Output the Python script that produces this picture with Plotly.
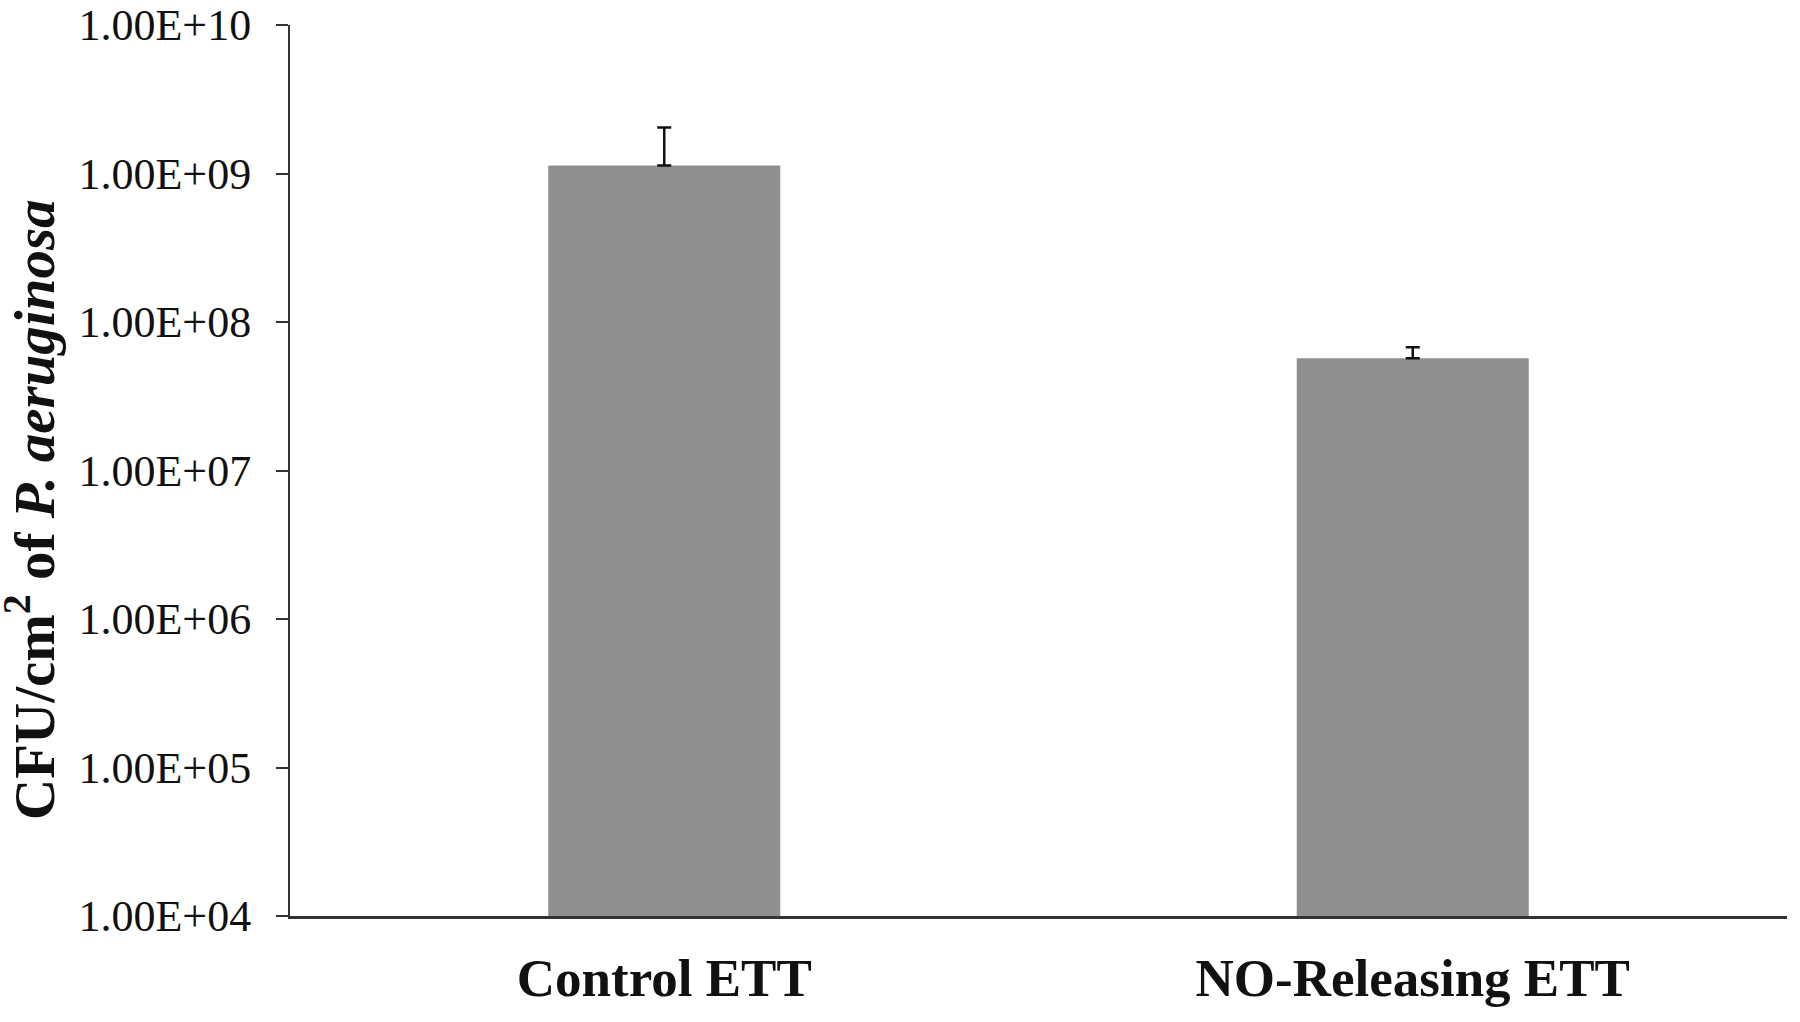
import plotly.graph_objects as go

# bar data (log scale)
categories = ["Control ETT", "NO-Releasing ETT"]
cfu_mean = [1.13e9, 5.7e7]
cfu_err = [0.91e9, 1.05e7]

tick_vals = [1e4, 1e5, 1e6, 1e7, 1e8, 1e9, 1e10]
tick_text = ["1.00E+04", "1.00E+05", "1.00E+06", "1.00E+07",
             "1.00E+08", "1.00E+09", "1.00E+10"]

W, H = 1800, 1022
L, R, T, B = 290, 13, 25, 106
serif = "Liberation Serif, Times New Roman, serif"

fig = go.Figure(go.Bar(
    x=categories,
    y=cfu_mean,
    width=0.31,
    marker=dict(color="#8f8f8f", line=dict(width=0)),
    error_y=dict(type="data", symmetric=False, array=cfu_err,
                 arrayminus=[0, 0], color="#111111", thickness=2.5, width=7),
))

plot_w = W - L - R
plot_h = H - T - B
title_x, title_y = 30, 510   # centre of y title, px

fig.update_layout(
    width=W, height=H,
    margin=dict(l=L, r=R, t=T, b=B, autoexpand=False),
    paper_bgcolor="white", plot_bgcolor="white",
    showlegend=False,
    font=dict(family=serif, color="#111111"),
    annotations=[dict(
        text="<b>CFU/cm<sup>2</sup> of <i>P. aeruginosa</i></b>",
        textangle=-90,
        xref="paper", yref="paper",
        x=(title_x - L) / plot_w, y=1 - (title_y - T) / plot_h,
        xanchor="center", yanchor="middle",
        showarrow=False,
        font=dict(family=serif, size=57, color="#111111"),
    )],
)

fig.update_xaxes(
    type="category",
    range=[-0.5, 1.5],
    automargin=False,
    showline=True, linecolor="#333333", linewidth=2.5,
    ticks="", showgrid=False, zeroline=False,
    tickfont=dict(family=serif, size=53, color="#111111"),
    ticklabelstandoff=14,
    tickprefix="<b>", ticksuffix="</b>",
)

fig.update_yaxes(
    type="log",
    range=[4, 10],
    automargin=False,
    tickvals=tick_vals, ticktext=tick_text,
    showline=True, linecolor="#333333", linewidth=2,
    ticks="outside", ticklen=12, tickwidth=2, tickcolor="#333333",
    showgrid=False, zeroline=False,
    tickfont=dict(family=serif, size=44, color="#111111"),
    ticklabelstandoff=16,
    ticklabeloverflow="allow",
)

# drop the browser's default body margin so the figure sits at 0,0
fig.write_html("out.html", config={"displayModeBar": False},
               post_script="document.body.style.margin='0';")
